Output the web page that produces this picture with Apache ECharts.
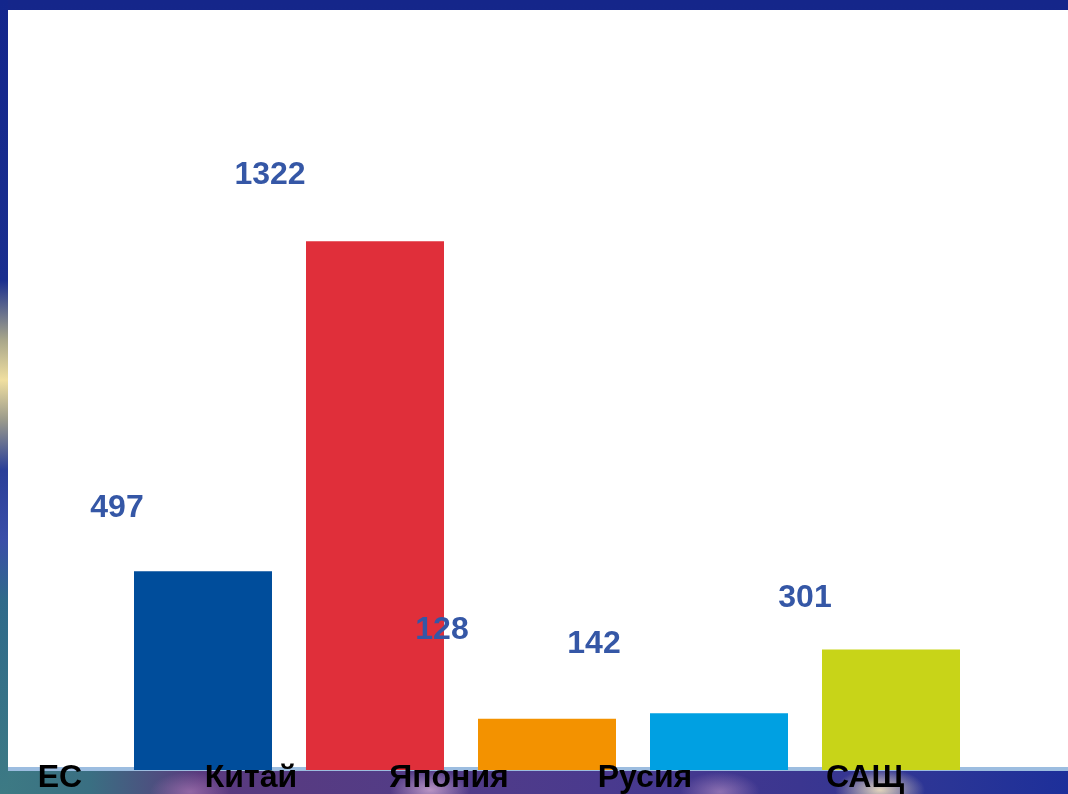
<!DOCTYPE html>
<html>
<head>
<meta charset="utf-8">
<script src="https://cdn.jsdelivr.net/npm/echarts@6/dist/echarts.min.js"></script>
<style>
html,body{margin:0;padding:0;width:1068px;height:794px;overflow:hidden;}
#bg{position:absolute;left:0;top:0;width:1068px;height:794px;
background:
 radial-gradient(ellipse 14px 60px at 4px 380px, rgba(240,225,160,0.95), rgba(240,225,160,0) 100%),
 radial-gradient(ellipse 40px 14px at 45px 5px, rgba(200,200,220,0.7), rgba(200,200,220,0) 100%),
 radial-gradient(ellipse 40px 10px at 345px 4px, rgba(220,220,210,0.85), rgba(220,220,210,0) 100%),
 radial-gradient(ellipse 50px 10px at 690px 4px, rgba(200,200,230,0.8), rgba(200,200,230,0) 100%),
 radial-gradient(ellipse 30px 10px at 860px 4px, rgba(120,100,160,0.6), rgba(120,100,160,0) 100%),
 radial-gradient(ellipse 45px 22px at 880px 790px, rgba(235,220,190,0.95), rgba(235,220,190,0) 100%),
 radial-gradient(ellipse 40px 20px at 430px 790px, rgba(210,170,210,0.8), rgba(210,170,210,0) 100%),
 radial-gradient(ellipse 40px 20px at 190px 792px, rgba(170,120,180,0.7), rgba(170,120,180,0) 100%),
 radial-gradient(ellipse 40px 20px at 720px 792px, rgba(190,150,200,0.6), rgba(190,150,200,0) 100%),
 linear-gradient(to right, #3d7a84 0px, #3a6f82 90px, #5a3a7e 200px, #533c86 400px, #4a3a8e 600px, #3b3690 800px, #2a3596 950px, #1d2f9a 1068px);
}
#top{position:absolute;left:0;top:0;width:1068px;height:430px;
background:linear-gradient(to bottom,#15268a 0px,#16288c 300px,rgba(22,40,140,0) 430px);}
#left{position:absolute;left:0;top:0;width:8px;height:794px;
background:linear-gradient(to bottom,#13268c 0px,#1a2f8f 280px,#a8a68a 340px,#f0dfa0 380px,#9a9a8c 420px,#2a3f98 470px,#3a4ea8 540px,#2f6a8a 600px,#3d7a84 794px);}
#panel{position:absolute;left:8px;top:10px;width:1060px;height:757px;background:#ffffff;border-bottom:4px solid #9cbde0;}
#chart{position:absolute;left:0;top:0;width:1068px;height:794px;}
</style>
</head>
<body>
<div id="bg"></div>
<div id="top"></div>
<div id="left"></div>
<div id="panel"></div>
<div id="chart"></div>
<script>
const categories = ['ЕС', 'Китай', 'Япония', 'Русия', 'САЩ'];
const values = [497, 1322, 128, 142, 301];
const barColors = ['#004d9b', '#e02f3a', '#f39200', '#00a0e2', '#c8d418'];

// label placement styling (not data)
const valueLabelShift = [[-86, -42], [-105, -45], [-105, -68], [-125, -48], [-86, -30]];
const catLabelPad = [286, 248, 196, 148, 52];

const rich = {};
catLabelPad.forEach((p, i) => {
  rich['c' + i] = { fontFamily: 'Liberation Sans, Arial, sans-serif', fontWeight: 'bold', fontSize: 32, color: '#000', padding: [0, p, 0, 0] };
});

const chart = echarts.init(document.getElementById('chart'), null, { renderer: 'canvas' });
chart.setOption({
  backgroundColor: 'transparent',
  animation: false,
  grid: { left: 117, width: 860, top: 10, bottom: 24 },
  xAxis: {
    type: 'category',
    data: categories,
    z: 10,
    axisLine: { show: false },
    axisTick: { show: false },
    axisLabel: {
      margin: 8,
      verticalAlign: 'middle',
      interval: 0,
      formatter: (v, i) => '{c' + i + '|' + v + '}',
      rich: rich
    }
  },
  yAxis: { type: 'value', min: 0, max: 1900, show: false, splitLine: { show: false } },
  series: [{
    type: 'bar',
    barWidth: 138,
    data: values.map((v, i) => ({
      value: v,
      itemStyle: { color: barColors[i] },
      label: { offset: valueLabelShift[i] }
    })),
    label: {
      show: true,
      position: 'top',
      fontFamily: 'Liberation Sans, Arial, sans-serif',
      fontWeight: 'bold',
      fontSize: 32,
      color: '#3557a6'
    }
  }]
});
</script>
</body>
</html>
